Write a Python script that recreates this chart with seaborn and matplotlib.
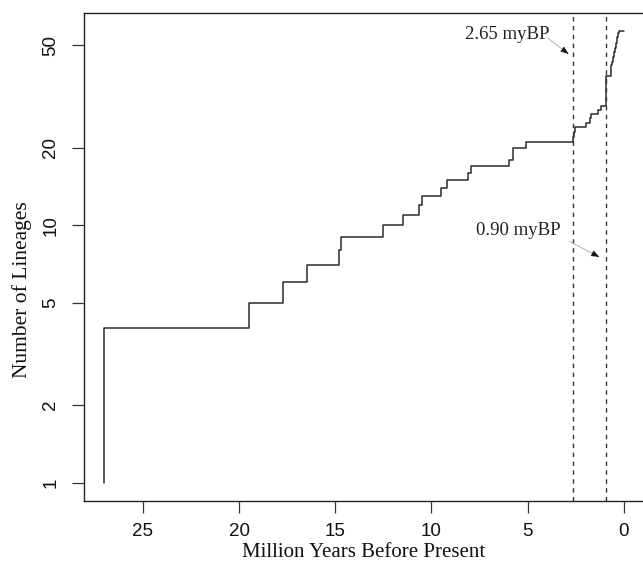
import pandas as pd
import seaborn as sns
import matplotlib
matplotlib.use("Agg")
import matplotlib.pyplot as plt
from matplotlib.ticker import FixedLocator, NullLocator, FixedFormatter

# branching times (myBP) and number of lineages after each event
event_time = [27.00, 27.00, 19.50, 17.72, 16.45, 14.78, 14.70, 12.53, 11.48,
              10.62, 10.50, 9.50, 9.20, 8.08, 7.94, 5.94, 5.76, 5.74, 5.10,
              2.65, 2.59, 2.51, 1.98, 1.75, 1.72, 1.32, 1.20,
              0.93, 0.93, 0.93, 0.92, 0.92, 0.92, 0.92, 0.91, 0.91,
              0.68, 0.67, 0.67, 0.66,
              0.61, 0.57, 0.54, 0.50, 0.49, 0.45, 0.44, 0.40, 0.38, 0.37,
              0.35, 0.33, 0.31, 0.30, 0.26, 0.00]
lineages = [1, 4, 5, 6, 7, 8, 9, 10, 11, 12, 13, 14, 15, 16, 17, 18, 19, 20, 21,
            22, 23, 24, 25, 26, 27, 28, 29,
            30, 31, 32, 33, 34, 35, 36, 37, 38,
            39, 40, 41, 42,
            43, 44, 45, 46, 47, 48, 49, 50, 51, 52, 53, 54, 55, 56, 57, 57]

shift_times = [2.65, 0.90]
shift_labels = ["2.65 myBP", "0.90 myBP"]
label_pos = [(6.08, 55.2), (5.50, 9.53)]
arrow_from = [(3.94, 53.3), (2.83, 8.66)]
arrow_to = [(2.88, 46.4), (1.28, 7.54)]

x_ticks = [25, 20, 15, 10, 5, 0]
y_ticks = [1, 2, 5, 10, 20, 50]

ltt = pd.DataFrame({"time": event_time, "n": lineages})

sns.set_style("ticks")
plt.rcParams['font.family'] = ['Liberation Sans', 'DejaVu Sans']

fig = plt.figure(figsize=(6.43, 5.66), dpi=100)
ax = fig.add_axes([0.1302, 0.1154, 0.8721, 0.8622])

sns.lineplot(data=ltt, x="time", y="n", sort=False, estimator=None,
             drawstyle="steps-post", color="#2b2b2b", linewidth=1.1, ax=ax)

for t in shift_times:
    ax.axvline(t, color="#333333", linewidth=1.0, linestyle=(0, (3.2, 3.2)))

serif = ['Liberation Serif', 'DejaVu Serif']
for lab, pos, a, b in zip(shift_labels, label_pos, arrow_from, arrow_to):
    ax.text(pos[0], pos[1], lab, ha="center", va="center", fontsize=13.5,
            family=serif, color="#222222")
    ax.annotate("", xy=b, xytext=a,
                arrowprops=dict(arrowstyle="-", color="#b0b0b0", lw=0.7,
                                shrinkA=0, shrinkB=0))
    ax.annotate("", xy=b, xytext=(b[0] + (a[0] - b[0]) * 0.05,
                                  b[1] * (a[1] / b[1]) ** 0.05),
                arrowprops=dict(arrowstyle="-|>,head_length=0.45,head_width=0.18",
                                color="#111111", lw=0.6, shrinkA=0, shrinkB=0))

ax.set_yscale("log")
ax.set_xlim(28.08, -1.08)
ax.set_ylim(10 ** (-0.04 * 1.7559), 10 ** (1.04 * 1.7559))
ax.xaxis.set_major_locator(FixedLocator(x_ticks))
ax.yaxis.set_major_locator(FixedLocator(y_ticks))
ax.yaxis.set_major_formatter(FixedFormatter([str(v) for v in y_ticks]))
ax.yaxis.set_minor_locator(NullLocator())

ax.tick_params(axis="both", direction="out", length=8.6, width=0.9,
               color="#333333", labelsize=13.5, labelcolor="#111111")
ax.tick_params(axis="x", pad=7.5)
ax.tick_params(axis="y", pad=9, labelrotation=90)
for lbl in ax.get_yticklabels():
    lbl.set_va("center")

for side in ["top", "right", "bottom", "left"]:
    ax.spines[side].set_visible(True)
    ax.spines[side].set_color("#222222")
    ax.spines[side].set_linewidth(1.0)

ax.set_xlabel("Million Years Before Present", fontsize=15, family=serif,
              color="#111111", labelpad=2)
ax.set_ylabel("Number of Lineages", fontsize=15.5, family=serif,
              color="#111111")
ax.yaxis.set_label_coords(-0.092, 0.432)

fig.savefig("out.png", dpi=100)
